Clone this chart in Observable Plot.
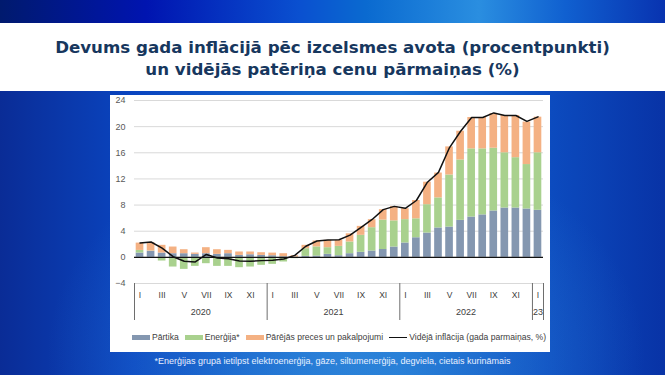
<!DOCTYPE html>
<html><head><meta charset="utf-8">
<script src="https://cdn.jsdelivr.net/npm/d3@7"></script>
<script src="https://cdn.jsdelivr.net/npm/@observablehq/plot@0.6"></script>
<style>
html,body{margin:0;padding:0;width:665px;height:375px;overflow:hidden;}
body{position:relative;font-family:"Liberation Sans",Arial,sans-serif;
background:
 radial-gradient(ellipse 45% 60% at 52% 95%, rgba(60,150,225,0.55), rgba(60,150,225,0) 100%),
 linear-gradient(90deg,#0a2c96 0%,#0a45c0 20%,#1565cc 45%,#1a6fd0 60%,#0c4cc0 82%,#0833a6 100%);}
#topstrip{position:absolute;left:0;top:0;width:665px;height:23px;
background:linear-gradient(90deg,#001a6e 0%,#0014b0 22%,#0a50d0 45%,#0a6ad0 55%,#2a8ee0 72%,#1060d0 85%,#0833b0 100%);}
#band{position:absolute;left:0;top:23px;width:665px;height:68px;background:#fff;}
#title{position:absolute;left:0;top:37px;width:665px;text-align:center;color:#17375e;
font-family:"DejaVu Sans",sans-serif;font-weight:bold;font-size:15.5px;line-height:22px;}
#title span{white-space:nowrap;}
#panel{position:absolute;left:110px;top:95px;width:440px;height:257px;background:#fff;}
#legend{position:absolute;left:22px;top:236px;height:12px;display:flex;align-items:center;font-size:8.6px;color:#404040;white-space:nowrap;}
#legend .sw{display:inline-block;width:18px;height:5px;margin-right:2px;}
#legend .ln{display:inline-block;width:18px;height:0;border-top:1.6px solid #111;margin-right:2px;}
#legend .it{display:flex;align-items:center;margin-right:6px;}
#caption{position:absolute;left:0;top:356px;width:665px;text-align:center;color:#e8f0ff;font-size:9px;}
</style>
</head><body>
<div id="topstrip"></div>
<div id="band"></div>
<div id="title"><span id="t1">Devums gada inflācijā pēc izcelsmes avota (procentpunkti)</span><br><span>un vidējās patēriņa cenu pārmaiņas (%)</span></div>
<div id="panel"><div id="chart"></div><div id="legend"></div></div>
<div id="caption">*Enerģijas grupā ietilpst elektroenerģija, gāze, siltumenerģija, degviela, cietais kurināmais</div>
<script>
// Months Jan 2020 .. Jan 2023
const monthLabels = ["I","II","III","IV","V","VI","VII","VIII","IX","X","XI","XII"];
const yearLabels = ["2020","2021","2022","23"];
const seriesNames = ["Pārtika","Enerģija*","Pārējās preces un pakalpojumi"];
const lineName = "Vidējā inflācija (gada parmaiņas, %)";
const colors = ["#8497b0","#a9d18e","#f4b183"];

const food = [0.66,0.92,0.66,0.56,0.56,0.46,0.56,0.46,0.56,0.3,0.4,0.3,
              0.25,0.1,0.05,0.15,0.2,0.46,0.25,0.56,0.77,0.97,1.2,1.58,
              2.2,3.0,3.72,4.5,4.64,5.66,6.17,6.5,7.1,7.55,7.55,7.4,
              7.2];
const energy = [0.4,0.05,-0.56,-1.48,-1.84,-1.38,-0.97,-1.38,-1.38,-1.58,-1.48,-1.22,
                -1.07,-0.71,-0.2,1.18,1.4,1.02,1.43,1.79,2.6,3.57,4.5,4.0,
                3.57,2.9,4.34,4.6,7.96,9.24,10.43,10.1,9.6,8.45,7.7,6.8,
                8.8];
const other = [1.12,1.27,1.18,1.02,0.61,0.2,0.92,0.71,0.51,0.52,0.42,0.41,
               0.4,0.46,0.2,0.51,0.9,1.12,0.92,1.25,1.37,1.23,1.6,2.2,
               1.68,2.8,3.44,3.8,4.3,4.4,4.8,4.8,5.3,5.7,6.45,6.5,
               5.45];
const inflation = [2.2,2.35,1.4,0.1,-0.6,-0.7,0.45,-0.1,-0.2,-0.55,-0.6,-0.5,
                   -0.45,-0.25,0.3,1.7,2.5,2.65,2.7,3.4,4.6,5.8,7.3,7.8,
                   7.5,8.7,11.5,13.0,16.8,19.3,21.4,21.4,22.1,21.7,21.7,20.8,
                   21.5];
const yTicks = [-4,0,4,8,12,16,20,24];

// fit title line 1 to the reference width
const t1 = document.getElementById("t1");
const w1 = t1.getBoundingClientRect().width;
if (w1 > 0) document.getElementById("title").style.fontSize = (15.5 * 555 / w1) + "px";

const n = food.length;
const bars = [];
for (let i = 0; i < n; i++) {
  [food, energy, other].forEach((arr, k) => bars.push({i, series: seriesNames[k], value: arr[i]}));
}
const line = inflation.map((v, i) => ({i, value: v}));
const monthTicks = d3.range(0, n, 2).map(i => i + 0.5);
const yearCenters = [6, 18, 30, 36.5];
const sepTicks = [0, 12, 24, 36, 37];

const chart = Plot.plot({
  width: 440, height: 230,
  marginLeft: 24, marginRight: 7, marginTop: 5, marginBottom: 42,
  style: {fontFamily: "Liberation Sans, Arial, sans-serif", fontSize: "9px", color: "#595959", background: "transparent", overflow: "visible"},
  x: {type: "linear", domain: [0, n], axis: null},
  y: {domain: [-4, 24], axis: null},
  color: {domain: seriesNames, range: colors},
  marks: [
    Plot.gridY(yTicks, {stroke: "#d9d9d9", strokeOpacity: 1, strokeWidth: 1}),
    Plot.axisY({ticks: yTicks, tickSize: 0, tickPadding: 9, fontSize: 9, fill: "#595959", label: null}),
    Plot.rectY(bars, {x1: d => d.i, x2: d => d.i + 1, y: "value", fill: "series", insetLeft: 1.7, insetRight: 1.7}),
    Plot.ruleY([0], {stroke: "#111", strokeWidth: 1.2}),
    Plot.line(line, {x: d => d.i + 0.5, y: "value", stroke: "#111", strokeWidth: 1.5}),
    Plot.axisX({ticks: monthTicks, tickSize: 0, tickPadding: 8, tickFormat: d => monthLabels[Math.floor(d) % 12], fontSize: 8.5, fill: "#404040", label: null}),
    Plot.axisX({ticks: yearCenters, tickSize: 0, tickPadding: 25, tickFormat: (d, k) => yearLabels[k], fontSize: 9, fill: "#404040", label: null}),
    Plot.axisX({ticks: sepTicks, tickSize: 37, tickFormat: () => "", stroke: "#6e6e6e", strokeWidth: 1, label: null})
  ]
});
document.getElementById("chart").appendChild(chart);

const legend = document.getElementById("legend");
seriesNames.forEach((s, k) => {
  const it = document.createElement("span"); it.className = "it";
  it.innerHTML = `<span class="sw" style="background:${colors[k]}"></span>${s}`;
  legend.appendChild(it);
});
const li = document.createElement("span"); li.className = "it";
li.innerHTML = `<span class="ln"></span>${lineName}`;
legend.appendChild(li);
</script>
</body></html>
